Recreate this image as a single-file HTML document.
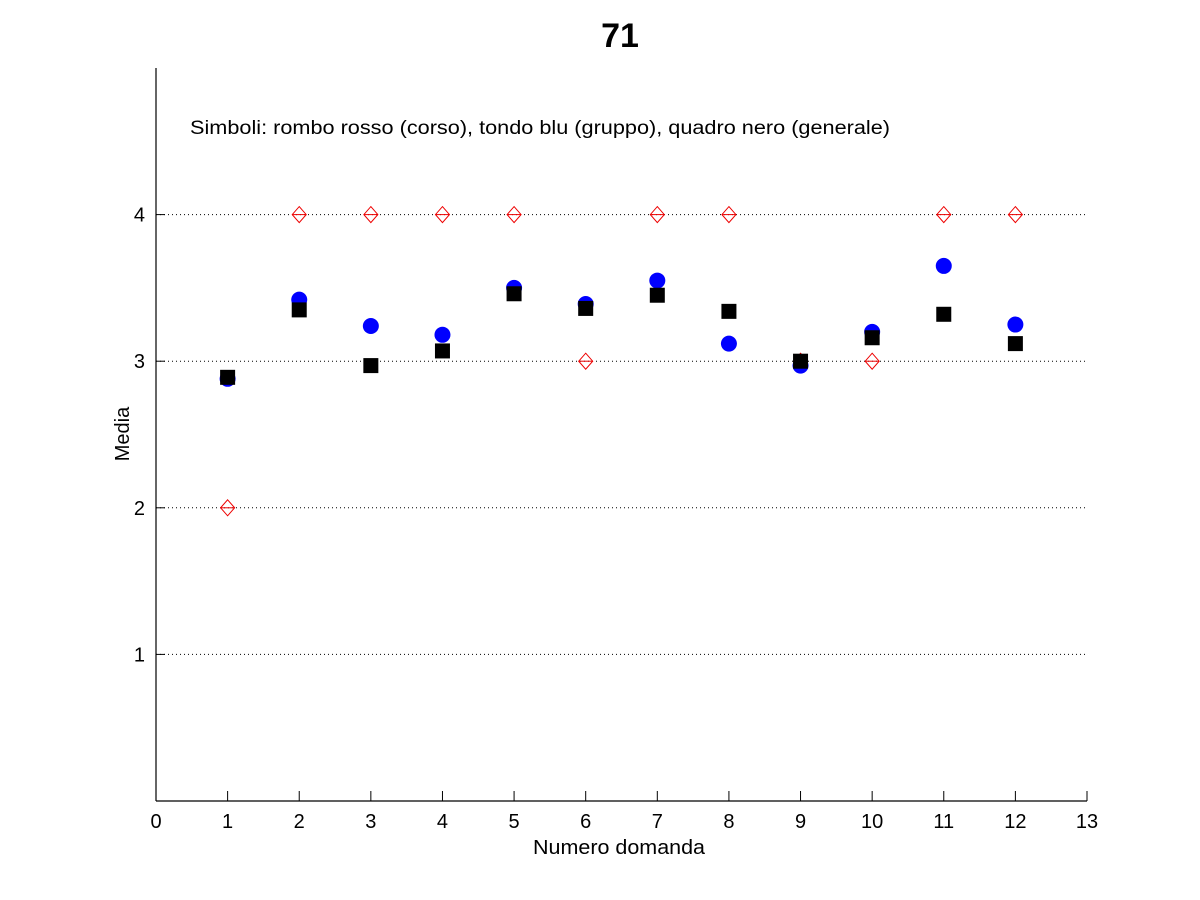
<!DOCTYPE html>
<html><head><meta charset="utf-8"><style>
html,body{margin:0;padding:0;background:#fff;}
svg{display:block;font-family:"Liberation Sans",Arial,sans-serif;}
</style></head><body>
<svg id="chart" width="1200" height="900" viewBox="0 0 1200 900" xmlns="http://www.w3.org/2000/svg">
<text x="620" y="47" font-size="34" font-weight="bold" text-anchor="middle">71</text>
<text x="190" y="134" font-size="19" textLength="700" lengthAdjust="spacingAndGlyphs">Simboli: rombo rosso (corso), tondo blu (gruppo), quadro nero (generale)</text>
<text x="619" y="854" font-size="20" text-anchor="middle" textLength="172" lengthAdjust="spacingAndGlyphs">Numero domanda</text>
<text x="0" y="0" font-size="20" text-anchor="middle" transform="translate(129,434) rotate(-90)">Media</text>
<g id="grid"></g><g id="axes"></g><g id="marks"></g>
</svg>
<script>
const xTicks=[0,1,2,3,4,5,6,7,8,9,10,11,12,13];
const yTicks=[1,2,3,4];
const questions=[1,2,3,4,5,6,7,8,9,10,11,12];
const corso=[2,4,4,4,4,3,4,4,3,3,4,4];
const gruppo=[2.88,3.42,3.24,3.18,3.50,3.39,3.55,3.12,2.97,3.20,3.65,3.25];
const generale=[2.89,3.35,2.97,3.07,3.46,3.36,3.45,3.34,3.00,3.16,3.32,3.12];
const NS="http://www.w3.org/2000/svg";
const X0=156,X1=1087,Y0=801,Y1=68;
function sx(v){return X0+(X1-X0)*v/13;}
function sy(v){return Y0-(Y0-Y1)*v/5;}
function mk(t,a,p){const e=document.createElementNS(NS,t);for(const k in a)e.setAttribute(k,a[k]);document.getElementById(p).appendChild(e);return e;}
yTicks.forEach(t=>{
 const g=mk('line',{x1:X0,x2:X1,y1:sy(t),y2:sy(t),stroke:'#000','stroke-width':1,'stroke-dasharray':'1 3'},'grid');
 
 
 const tk=mk('line',{x1:X0,x2:X0+9,y1:sy(t),y2:sy(t),stroke:'#000'},'axes');
 
 
 const l=mk('text',{x:X0-11,y:sy(t)+7,'font-size':20,'text-anchor':'end'},'axes');l.textContent=t;
 
 
});
xTicks.forEach(t=>{
 const tk=mk('line',{x1:sx(t),x2:sx(t),y1:Y0,y2:Y0-10,stroke:'#000'},'axes');
 
 
 const l=mk('text',{x:sx(t),y:Y0+27,'font-size':20,'text-anchor':'middle'},'axes');l.textContent=t;
 
 
});
const ya=mk('line',{x1:X0,x2:X0,y1:Y1,y2:Y0,stroke:'#000','stroke-width':1.2},'axes');


const xa=mk('line',{x1:X0,x2:X1,y1:Y0,y2:Y0,stroke:'#000','stroke-width':1.2},'axes');


questions.forEach((q,i)=>{
 const x=sx(q),y=sy(corso[i]);
 const d=mk('path',{d:`M${x},${y-8}L${x+7},${y}L${x},${y+8}L${x-7},${y}Z`,fill:'none',stroke:'#e00','stroke-width':1},'marks');
 
 
 const h=mk('line',{x1:x-7,x2:x+7,y1:y,y2:y,stroke:'#e00','stroke-width':1},'marks');
 
 
});
questions.forEach((q,i)=>{
 const c=mk('circle',{cx:sx(q),cy:sy(gruppo[i]),r:8,fill:'#00f'},'marks');
 
 
});
questions.forEach((q,i)=>{
 const s=mk('rect',{x:sx(q)-7.5,y:sy(generale[i])-7.5,width:15,height:15,fill:'#000'},'marks');
 
 
});
</script>
</body></html>
